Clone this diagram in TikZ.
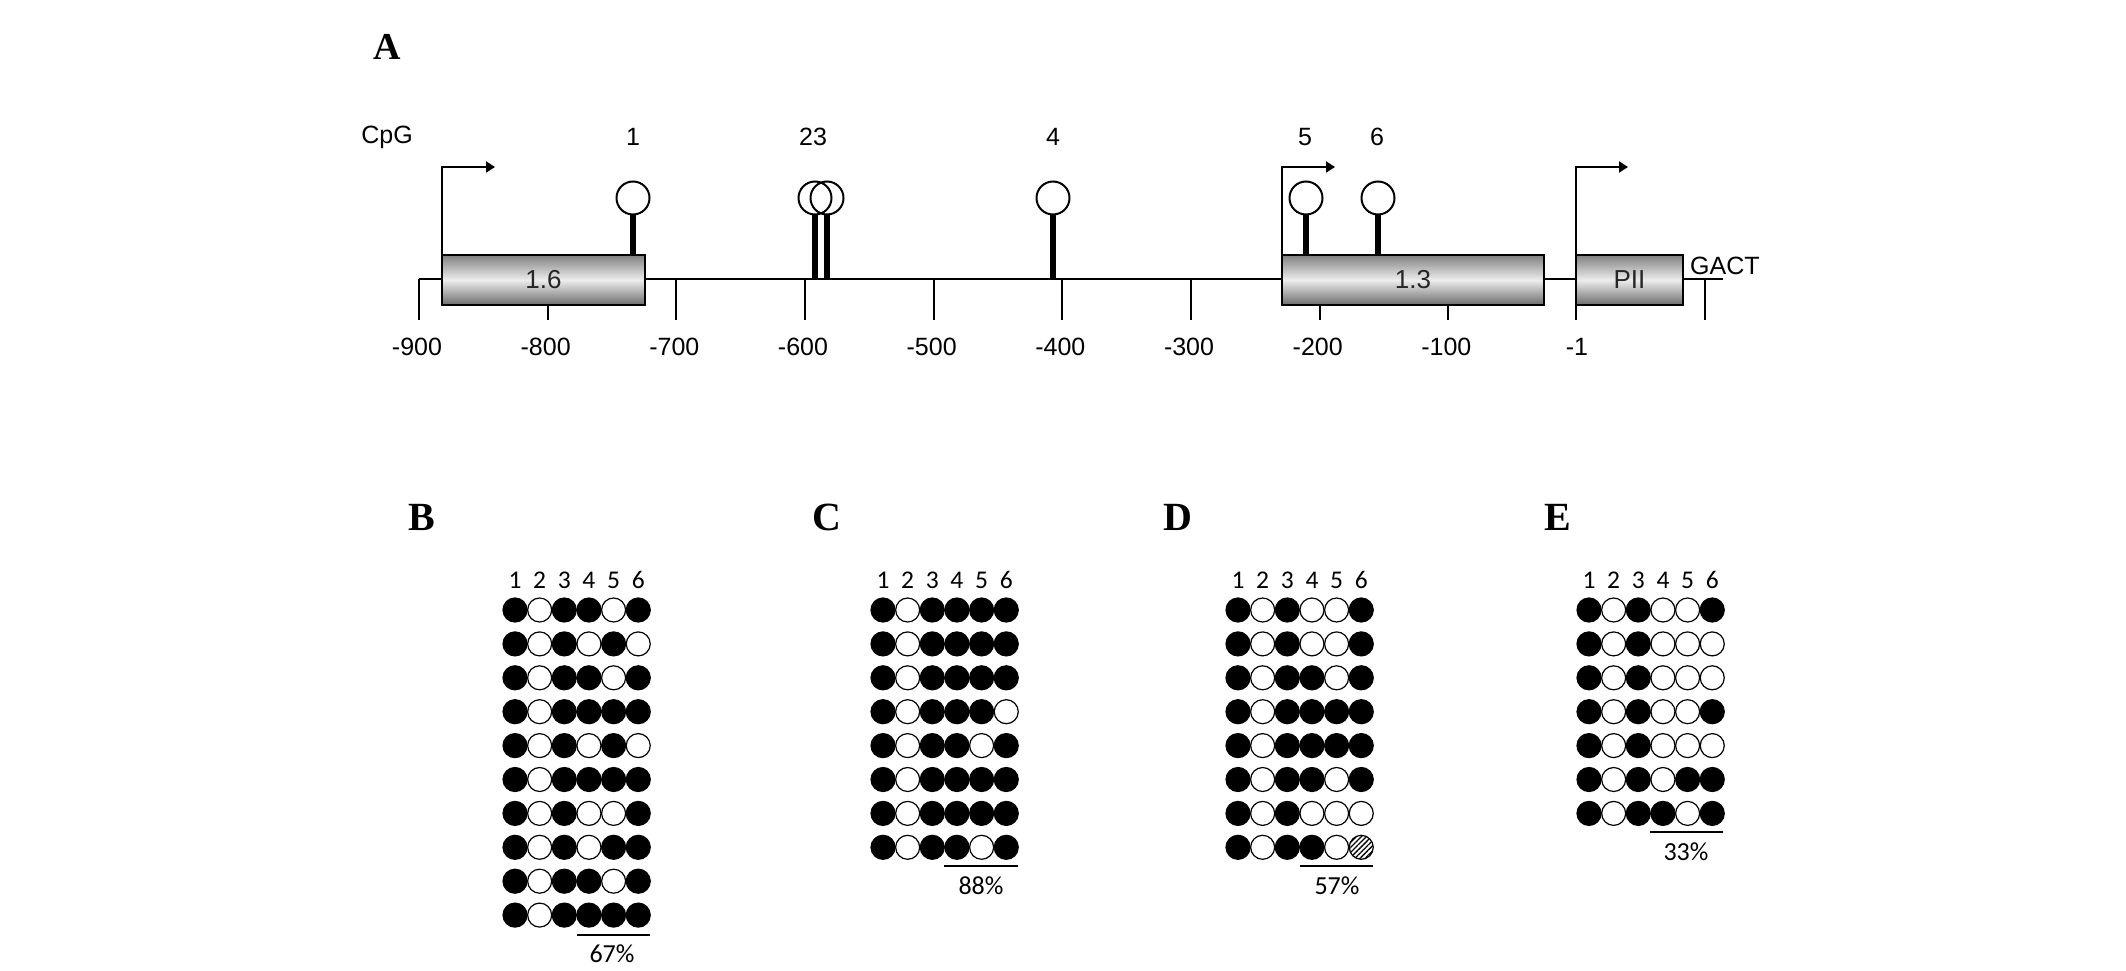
\documentclass[tikz,border=0pt]{standalone}
\usepackage{fontspec}
\usetikzlibrary{arrows.meta,patterns.meta}
\newfontfamily\arialf{Liberation Sans}
\newfontfamily\serifb{Liberation Serif}
\newfontfamily\calibf{Carlito}

\tikzset{
  lbl/.style={font=\arialf\fontsize{25}{29}\selectfont, inner sep=0pt},
  panelA/.style={font=\serifb\bfseries\fontsize{38}{42}\selectfont, inner sep=0pt},
  panelL/.style={font=\serifb\bfseries\fontsize{40}{44}\selectfont, inner sep=0pt},
  colnum/.style={font=\calibf\fontsize{25.5}{29}\selectfont, inner sep=0pt},
  pct/.style={font=\calibf\fontsize{26}{30}\selectfont, inner sep=0pt},
  genebox/.style={draw=black, line width=2.5pt, outer sep=0pt, top color=black!50, bottom color=black!58, middle color=black!7, minimum height=50pt, inner sep=0pt, font=\arialf\fontsize{26}{30}\selectfont, text=black!85},
  axisline/.style={line width=2pt},
  tss/.style={line width=2pt, -{Triangle[length=9pt,width=11pt]}},
  lolli/.style={circle, draw, line width=2pt, minimum size=33pt, inner sep=0pt, outer sep=0pt},
  stem/.style={line width=6pt},
  met/.style={circle, draw, fill=black, line width=1.2pt, minimum size=24pt, inner sep=0pt},
  unm/.style={circle, draw, fill=white, line width=1.2pt, minimum size=24pt, inner sep=0pt},
  hat/.style={circle, draw, pattern={Lines[angle=45,distance=3.6pt,line width=1.3pt]}, line width=1.2pt, minimum size=24pt, inner sep=0pt},
  uline/.style={line width=1.5pt},
}

\newcommand\methpanel[3]{%
  \foreach \c in {1,...,6} {
    \pgfmathsetmacro\cx{#2+(\c-1)*24.65}
    \node[colnum] (#1-n\c) at (\cx,580) {\c};
  }
  \foreach \row [count=\r] in {#3} {
    \foreach \v [count=\c] in \row {
      \pgfmathsetmacro\cx{#2+(\c-1)*24.65}
      \pgfmathsetmacro\cy{610+(\r-1)*33.9}
      \ifcase\v
        \node[unm] (#1-\r-\c) at (\cx,\cy) {};
      \or
        \node[met] (#1-\r-\c) at (\cx,\cy) {};
      \or
        \node[hat] (#1-\r-\c) at (\cx,\cy) {};
      \fi
    }
  }
}

\begin{document}
\begin{tikzpicture}[x=1pt,y=-1pt]
\useasboundingbox (0,0) rectangle (2126,971);

% ---------------- Panel A ----------------
\node[panelA] (A) at (387,47) {A};
\node[lbl] (cpg) at (387,137) {CpG};

\coordinate (axL) at (419,279);
\coordinate (axR) at (1723,279);
\draw[axisline] (axL) -- (axR);

\foreach \v/\base in {900/279, 800/305, 700/279, 600/279, 500/279, 400/279, 300/279, 200/305, 100/305} {
  \pgfmathsetmacro\tx{419+(900-\v)*1.2867}
  \coordinate (tk\v) at (\tx,\base);
  \coordinate (tkb\v) at (\tx,320);
  \draw[axisline] (tk\v) -- (tkb\v);
  \node[lbl] (tl\v) at (\tx-2,347) {-\v};
}
\coordinate (tk1) at (1576,305);
\coordinate (tkb1) at (1576,320);
\draw[axisline] (tk1) -- (tkb1);
\node[lbl] (tl1) at (1577,347) {-1};
\coordinate (tkR) at (1705,279);
\coordinate (tkbR) at (1705,320);
\draw[axisline] (tkR) -- (tkbR);

\node[genebox, minimum width=203pt] (b16) at (543.5,280) {1.6};
\node[genebox, minimum width=262pt] (b13) at (1413,280) {1.3};
\node[genebox, minimum width=107pt] (bp2) at (1629.5,280) {PII};
\node[lbl, anchor=west] (gact) at (1690,266) {GACT};

\coordinate (tss1) at (495,167);
\coordinate (tss2) at (1335,167);
\coordinate (tss3) at (1628,167);
\draw[tss] (b16.north west) |- (tss1);
\draw[tss] (b13.north west) |- (tss2);
\draw[tss] (bp2.north west) |- (tss3);

\foreach \n/\x/\base in {1/633/255, 2/815/279, 3/827/279, 4/1053/279, 5/1306/255, 6/1378/255} {
  \node[lolli] (c\n) at (\x,198) {};
  \coordinate (s\n) at (\x,\base);
  \draw[stem] (s\n) -- (c\n.south);
}
\node[lbl] (l1) at (633,137) {1};
\node[lbl] (l23) at (813,137) {23};
\node[lbl] (l4) at (1053,137) {4};
\node[lbl] (l5) at (1305,137) {5};
\node[lbl] (l6) at (1377,137) {6};

% ---------------- Panels B-E ----------------
\node[panelL] (B) at (422,517) {B};
\node[panelL] (C) at (827,517) {C};
\node[panelL] (D) at (1178,517) {D};
\node[panelL] (E) at (1558,517) {E};

\methpanel{B}{515}{{1,0,1,1,0,1},{1,0,1,0,1,0},{1,0,1,1,0,1},{1,0,1,1,1,1},{1,0,1,0,1,0},{1,0,1,1,1,1},{1,0,1,0,0,1},{1,0,1,0,1,1},{1,0,1,1,0,1},{1,0,1,1,1,1}}
\methpanel{C}{883}{{1,0,1,1,1,1},{1,0,1,1,1,1},{1,0,1,1,1,1},{1,0,1,1,1,0},{1,0,1,1,0,1},{1,0,1,1,1,1},{1,0,1,1,1,1},{1,0,1,1,0,1}}
\methpanel{D}{1238}{{1,0,1,0,0,1},{1,0,1,0,0,1},{1,0,1,1,0,1},{1,0,1,1,1,1},{1,0,1,1,1,1},{1,0,1,1,0,1},{1,0,1,0,0,0},{1,0,1,1,0,2}}
\methpanel{E}{1589}{{1,0,1,0,0,1},{1,0,1,0,0,0},{1,0,1,0,0,0},{1,0,1,0,0,1},{1,0,1,0,0,0},{1,0,1,0,1,1},{1,0,1,1,0,1}}

\coordinate (Bl) at (577,935); \coordinate (Br) at (650,935);
\draw[uline] (Bl) -- (Br);
\node[pct] (Bp) at (612,954) {67\%};

\coordinate (Cl) at (944,866); \coordinate (Cr) at (1018,866);
\draw[uline] (Cl) -- (Cr);
\node[pct] (Cp) at (981,886) {88\%};

\coordinate (Dl) at (1300,866); \coordinate (Dr) at (1373,866);
\draw[uline] (Dl) -- (Dr);
\node[pct] (Dp) at (1337,886) {57\%};

\coordinate (El) at (1650,832); \coordinate (Er) at (1723,832);
\draw[uline] (El) -- (Er);
\node[pct] (Ep) at (1686,852) {33\%};

\end{tikzpicture}
\end{document}
